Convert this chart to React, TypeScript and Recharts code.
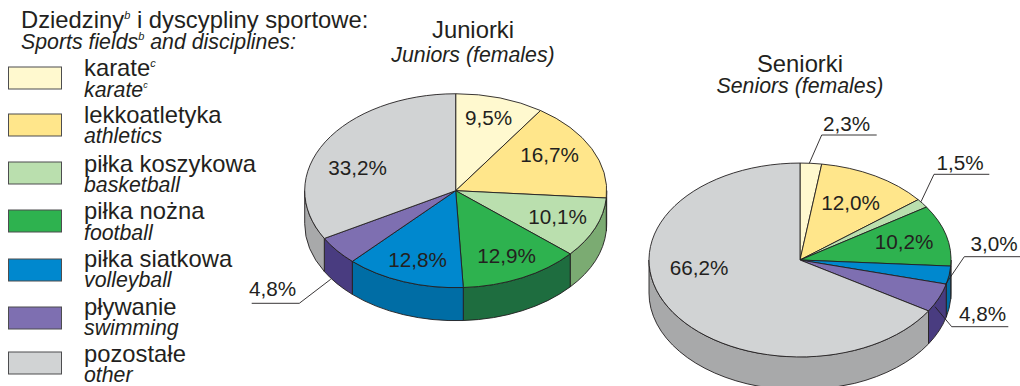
import { PieChart, Pie } from "recharts";

// polish / english category names
const categoriesPl = ["karate", "lekkoatletyka", "piłka koszykowa", "piłka nożna", "piłka siatkowa", "pływanie", "pozostałe"];
const categoriesEn = ["karate", "athletics", "basketball", "football", "volleyball", "swimming", "other"];

const juniorValues = [9.5, 16.7, 10.1, 12.9, 12.8, 4.8, 33.2];
const seniorValues = [2.3, 12.0, 1.5, 10.2, 3.0, 4.8, 66.2];

const topColors = ["#fff9cf", "#ffe68b", "#badfae", "#2eb24f", "#0088ce", "#7e6fb1", "#d1d3d4"];
const wallColors = ["#c9c4a0", "#c9b56c", "#7bab72", "#1e6d3f", "#006da5", "#493c80", "#a8a9aa"];

const INK = "#231f20";
const FONT = "'Liberation Sans', Arial, sans-serif";
const RX = 151;
const RY_RATIO = 0.642;
const DEPTH = 33;

// pie centres
const juniorCenter = { x: 455.7, y: 190.7 };
const seniorCenter = { x: 800, y: 260 };

// label placement relative to the pie centre, same order as categories
type Spot = { dx: number; dy: number; leader?: number[][] };
const juniorSpots: Spot[] = [
  { dx: 33, dy: -73 },
  { dx: 94, dy: -36 },
  { dx: 102, dy: 26 },
  { dx: 51, dy: 65 },
  { dx: -38, dy: 69 },
  { dx: -183, dy: 98.6, leader: [[-204, 112.6], [-156.4, 112.6], [-125, 88.6]] },
  { dx: -98, dy: -23 },
];
const seniorSpots: Spot[] = [
  { dx: 46.7, dy: -136, leader: [[76.7, -125], [21.7, -125], [9.3, -96.7]] },
  { dx: 50.7, dy: -56.7 },
  { dx: 160, dy: -97.3, leader: [[189.3, -85.7], [134, -85.7], [121, -58.3]] },
  { dx: 104, dy: -18.3 },
  { dx: 194, dy: -16, leader: [[220, -3.3], [164.3, -3.3], [145, 25]] },
  { dx: 182.7, dy: 54, leader: [[208.3, 66.7], [151.7, 66.7], [135, 46.7]] },
  { dx: -101, dy: 8.3 },
];

// legend rows: swatch top, polish baseline, english baseline
const legendRows = [
  [67, 76, 97],
  [114, 123, 143],
  [162, 172, 192],
  [210, 219, 240],
  [259, 267, 287],
  [307, 315, 335],
  [352, 362, 382],
];

const makeRows = (values: number[]) =>
  values.map((value, i) => ({ name: categoriesEn[i], value, fill: topColors[i], wall: wallColors[i] }));

const point = (cx: number, cy: number, r: number, clockDeg: number) => {
  const a = (clockDeg * Math.PI) / 180;
  return [cx + r * Math.sin(a), cy - r * RY_RATIO * Math.cos(a)];
};

// recharts gives the circular sector, we squash it into an ellipse
function TopSlice(props: any) {
  const { cx, cy, outerRadius: r, startAngle, endAngle, fill } = props;
  const a1 = 90 - startAngle;
  const a2 = 90 - endAngle;
  const [x1, y1] = point(cx, cy, r, a1);
  const [x2, y2] = point(cx, cy, r, a2);
  const large = a2 - a1 > 180 ? 1 : 0;
  const d = `M${cx},${cy}L${x1},${y1}A${r},${r * RY_RATIO} 0 ${large} 1 ${x2},${y2}Z`;
  return <path d={d} fill={fill} stroke={INK} strokeWidth={0.9} strokeLinejoin="round" />;
}

// side of the disc, only the part facing the viewer
function WallSlice(props: any) {
  const { cx, cy, outerRadius: r, startAngle, endAngle, payload } = props;
  const a1 = Math.max(90 - startAngle, 90);
  const a2 = Math.min(90 - endAngle, 270);
  if (a2 <= a1) return null;
  const [x1, y1] = point(cx, cy, r, a1);
  const [x2, y2] = point(cx, cy, r, a2);
  const ry = r * RY_RATIO;
  const d = `M${x1},${y1}A${r},${ry} 0 0 1 ${x2},${y2}L${x2},${y2 + DEPTH}A${r},${ry} 0 0 0 ${x1},${y1 + DEPTH}Z`;
  return <path d={d} fill={payload?.wall ?? props.wall} stroke={INK} strokeWidth={0.9} strokeLinejoin="round" />;
}

const slicePct = (v: number) => `${v.toFixed(1).replace(".", ",")}%`;

function sliceLabel(spots: Spot[], center: { x: number; y: number }) {
  return (props: any) => {
    const spot = spots[props.index];
    return (
      <g>
        {spot.leader && (
          <polyline
            points={spot.leader.map(([x, y]) => `${center.x + x},${center.y + y}`).join(" ")}
            fill="none"
            stroke={INK}
            strokeWidth={0.9}
          />
        )}
        <text
          x={center.x + spot.dx}
          y={center.y + spot.dy + 7}
          textAnchor="middle"
          fontFamily={FONT}
          fontSize={20.7}
          fill={INK}
        >
          {slicePct(props.value)}
        </text>
      </g>
    );
  };
}

const noMargin = { top: 0, right: 0, bottom: 0, left: 0 };

function Disc({ values, spots, center }: { values: number[]; spots: Spot[]; center: { x: number; y: number } }) {
  const rows = makeRows(values);
  return (
    <PieChart width={1020} height={386} margin={noMargin} style={{ position: "absolute", left: 0, top: 0 }}>
      <Pie
        data={rows}
        dataKey="value"
        cx={center.x}
        cy={center.y}
        outerRadius={RX}
        startAngle={90}
        endAngle={-270}
        stroke="none"
        shape={WallSlice}
        isAnimationActive={false}
      />
      <Pie
        data={rows}
        dataKey="value"
        cx={center.x}
        cy={center.y}
        outerRadius={RX}
        startAngle={90}
        endAngle={-270}
        stroke="none"
        shape={TopSlice}
        label={sliceLabel(spots, center)}
        labelLine={false}
        isAnimationActive={false}
      />
    </PieChart>
  );
}

function Sup({ children }: { children: string }) {
  return (
    <>
      <tspan dy={-9} fontSize={11} fontStyle="italic">{children}</tspan>
      <tspan dy={9}> </tspan>
    </>
  );
}

function LegendAndTitles() {
  return (
    <svg width={1020} height={386} style={{ position: "absolute", left: 0, top: 0 }} fontFamily={FONT} fill={INK}>
      <text x={21} y={28} fontSize={23.8}>
        Dziedziny<Sup>b</Sup>i dyscypliny sportowe:
      </text>
      <text x={21} y={49} fontSize={21.3} fontStyle="italic">
        Sports fields<Sup>b</Sup>and disciplines:
      </text>
      {categoriesPl.map((pl, i) => {
        const [top, plY, enY] = legendRows[i];
        const mark = i === 0 ? "c" : null;
        return (
          <g key={pl}>
            <rect x={8.5} y={top} width={53} height={22} fill={topColors[i]} stroke="#4d4d4f" strokeWidth={1} />
            <text x={84} y={plY} fontSize={23.8}>
              {pl}
              {mark && <tspan dy={-9} fontSize={11} fontStyle="italic">{mark}</tspan>}
            </text>
            <text x={84} y={enY} fontSize={21.3} fontStyle="italic">
              {categoriesEn[i]}
              {mark && <tspan dy={-9} fontSize={9}>{mark}</tspan>}
            </text>
          </g>
        );
      })}
      <text x={473} y={38.3} fontSize={23.8} textAnchor="middle">Juniorki</text>
      <text x={473} y={61.7} fontSize={21.3} fontStyle="italic" textAnchor="middle">Juniors (females)</text>
      <text x={800} y={71.7} fontSize={23.8} textAnchor="middle">Seniorki</text>
      <text x={800} y={92.7} fontSize={21.3} fontStyle="italic" textAnchor="middle">Seniors (females)</text>
    </svg>
  );
}

export default function App() {
  return (
    <div style={{ position: "absolute", left: 0, top: 0, width: 1020, height: 386, overflow: "hidden", background: "#fff" }}>
      <Disc values={juniorValues} spots={juniorSpots} center={juniorCenter} />
      <Disc values={seniorValues} spots={seniorSpots} center={seniorCenter} />
      <LegendAndTitles />
    </div>
  );
}
